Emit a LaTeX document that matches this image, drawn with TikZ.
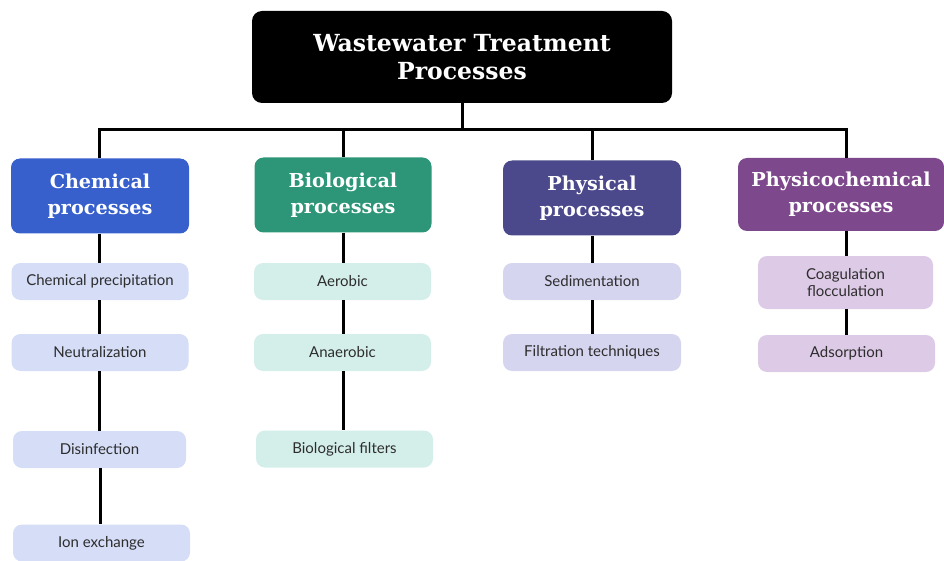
\documentclass[tikz,border=0pt]{standalone}
\usepackage{fontspec}
\setmainfont{Lato}
\newfontfamily\headfont{DejaVu Serif}
\definecolor{chemC}{RGB}{55,96,205}
\definecolor{bioC}{RGB}{46,150,120}
\definecolor{phyC}{RGB}{75,73,140}
\definecolor{pchC}{RGB}{126,72,140}
\definecolor{chemL}{RGB}{213,221,247}
\definecolor{bioL}{RGB}{212,239,234}
\definecolor{phyL}{RGB}{214,213,240}
\definecolor{pchL}{RGB}{221,202,230}
\definecolor{leaftext}{RGB}{45,45,45}
\begin{document}
\begin{tikzpicture}[x=1pt,y=-1pt,
  catbox/.style={rounded corners=9pt, inner sep=0pt, text=white, align=center,
    font=\headfont\bfseries\fontsize{19.2}{26}\selectfont, minimum width=178pt, minimum height=75pt},
  leafbox/.style={rounded corners=9pt, inner sep=0pt, text=leaftext, align=center,
    font=\fontsize{15}{17.5}\selectfont, minimum width=177pt, minimum height=37pt},
  conn/.style={line width=3pt, black}]
\useasboundingbox (0,0) rectangle (944,561);
% title
\node[fill=black, rounded corners=10pt, minimum width=420pt, minimum height=92pt, text=white, align=center,
  font=\headfont\bfseries\fontsize{23.5}{28}\selectfont] (top) at (462,57) {Wastewater Treatment\\Processes};
% categories
\node[catbox, fill=chemC] (c1) at (100,196) {Chemical\\processes};
\node[catbox, fill=bioC, minimum width=177pt] (c2) at (343,195) {Biological\\processes};
\node[catbox, fill=phyC] (c3) at (592,198) {Physical\\processes};
\node[catbox, fill=pchC, minimum width=206pt, minimum height=73pt] (c4) at (841,194.5) {Physicochemical\\processes};
% chemical leaves
\node[leafbox, fill=chemL] (a1) at (100,281.5) {Chemical precipitation};
\node[leafbox, fill=chemL] (a2) at (100,352.5) {Neutralization};
\node[leafbox, fill=chemL, minimum width=173pt] (a3) at (99.5,449.5) {Disinfection};
\node[leafbox, fill=chemL] (a4) at (101.5,543) {Ion exchange};
% biological leaves
\node[leafbox, fill=bioL] (b1) at (342.5,281.5) {Aerobic};
\node[leafbox, fill=bioL] (b2) at (342.5,352.5) {Anaerobic};
\node[leafbox, fill=bioL] (b3) at (344.5,449) {Biological filters};
% physical leaves
\node[leafbox, fill=phyL, minimum width=178pt] (p1) at (592,281.5) {Sedimentation};
\node[leafbox, fill=phyL, minimum width=178pt] (p2) at (592,352.5) {Filtration techniques};
% physicochemical leaves
\node[leafbox, fill=pchL, minimum width=175pt, minimum height=53pt] (q1) at (845.5,282.5) {Coagulation\\flocculation};
\node[leafbox, fill=pchL, minimum width=177pt] (q2) at (846.5,353.5) {Adsorption};
% connectors
\coordinate (bus) at (462,130);
\draw[conn] (top.south) -- (bus);
\draw[conn] (c1.north -| 99,0) -- (99,130) -- (846,130) -- (c4.north -| 846,0);
\draw[conn] (c2.north) -- (c2.north |- bus);
\draw[conn] (c3.north) -- (c3.north |- bus);
\draw[conn] (c1.south -| 99,0) -- (a1.north -| 99,0);
\draw[conn] (a1.south -| 99,0) -- (a2.north -| 99,0);
\draw[conn] (a2.south -| 99,0) -- (a3.north -| 99,0);
\draw[conn] (a3.south -| 100,0) -- (a4.north -| 100,0);
\draw[conn] (c2.south) -- (b1.north -| c2.south);
\draw[conn] (b1.south -| c2.south) -- (b2.north -| c2.south);
\draw[conn] (b2.south -| 343,0) -- (b3.north -| 343,0);
\draw[conn] (c3.south) -- (p1.north);
\draw[conn] (p1.south) -- (p2.north);
\draw[conn] (c4.south -| 846,0) -- (q1.north -| 846,0);
\draw[conn] (q1.south -| 846,0) -- (q2.north -| 846,0);
\end{tikzpicture}
\end{document}
